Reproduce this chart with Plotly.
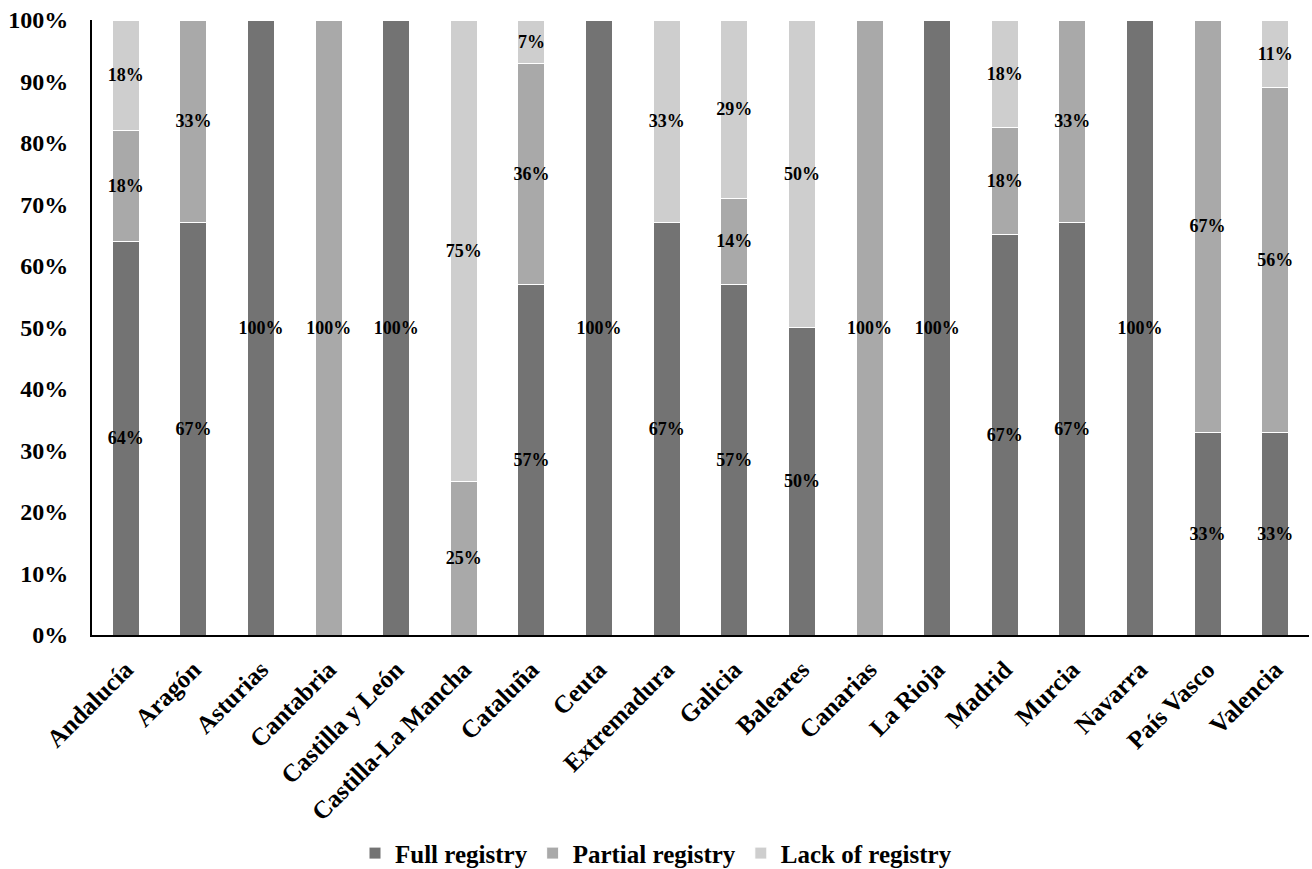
import plotly.graph_objects as go

regions = ["Andalucía", "Aragón", "Asturias", "Cantabria", "Castilla y León",
           "Castilla-La Mancha", "Cataluña", "Ceuta", "Extremadura", "Galicia",
           "Baleares", "Canarias", "La Rioja", "Madrid", "Murcia", "Navarra",
           "País Vasco", "Valencia"]

full_registry = [64, 67, 100, 0, 100, 0, 57, 100, 67, 57, 50, 0, 100, 67, 67, 100, 33, 33]
partial_registry = [18, 33, 0, 100, 0, 25, 36, 0, 0, 14, 0, 100, 0, 18, 33, 0, 67, 56]
lack_of_registry = [18, 0, 0, 0, 0, 75, 7, 0, 33, 29, 50, 0, 0, 18, 0, 0, 0, 11]

series = [
    ("Full registry", full_registry, "#737373"),
    ("Partial registry", partial_registry, "#a9a9a9"),
    ("Lack of registry", lack_of_registry, "#cecece"),
]

SERIF = "Liberation Serif, Times New Roman, serif"

fig = go.Figure()
for name, values, color in series:
    fig.add_trace(go.Bar(
        name=name,
        x=regions,
        y=values,
        marker=dict(color=color, line=dict(color="white", width=1)),
        text=[f"{v}%" if v else "" for v in values],
        textposition="inside",
        insidetextanchor="middle",
        textangle=0,
        textfont=dict(family=SERIF, size=18, color="black", weight="bold"),
        hoverinfo="skip",
    ))

fig.update_layout(
    barmode="stack",
    barnorm="percent",
    bargap=0.6,
    width=1312,
    height=869,
    margin=dict(l=92, r=3, t=20, b=234),
    plot_bgcolor="white",
    paper_bgcolor="white",
    uniformtext=dict(minsize=18, mode="show"),
    legend=dict(
        orientation="h",
        xref="container", yref="container",
        x=0.5, xanchor="center",
        y=0.018, yanchor="middle",
        font=dict(family=SERIF, size=25, color="black", weight="bold"),
        itemwidth=30,
        traceorder="normal",
    ),
    xaxis=dict(
        showline=True, linecolor="black", linewidth=2,
        tickangle=-45,
        tickfont=dict(family=SERIF, size=25, color="black", weight="bold"),
        ticks="outside", ticklen=8, tickcolor="rgba(0,0,0,0)",
        showgrid=False,
    ),
    yaxis=dict(
        range=[0, 100],
        dtick=10,
        ticksuffix="%",
        showline=True, linecolor="black", linewidth=2,
        tickfont=dict(family=SERIF, size=24, color="black", weight="bold"),
        ticks="outside", ticklen=17, tickcolor="rgba(0,0,0,0)",
        showgrid=False,
        zeroline=False,
    ),
)

fig.write_html("out.html")
